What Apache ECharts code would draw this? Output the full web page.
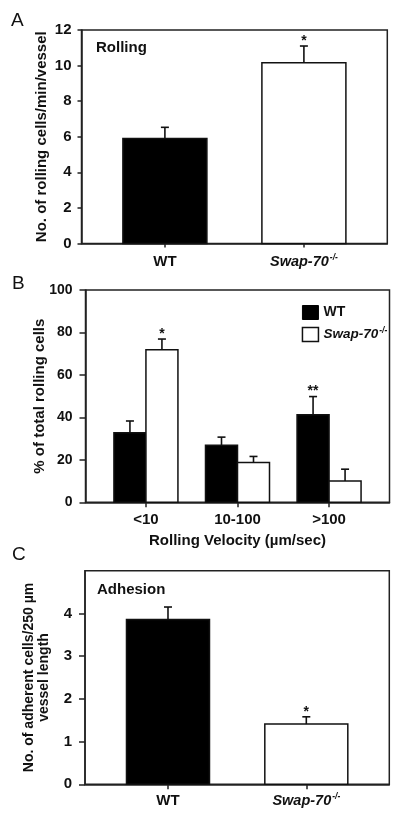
<!DOCTYPE html>
<html>
<head>
<meta charset="utf-8">
<script src="https://cdn.jsdelivr.net/npm/echarts@6/dist/echarts.min.js"></script>
<style>html,body{margin:0;padding:0;background:#fff}#c{width:400px;height:817px}</style>
</head>
<body>
<div id="c"></div>
<script>
// ---------- data ----------
// Panel A: rolling flux
const rollingGroups = ['WT', 'Swap-70'];
const rollingMean = [5.9, 10.16];
const rollingSem = [0.63, 0.94];
const rollingSig = ['', '*'];
const rollingTicks = [0, 2, 4, 6, 8, 10, 12];

// Panel B: rolling velocity distribution
const velocityBins = ['<10', '10-100', '>100'];
const velocityWT = [32.8, 26.9, 41.2];
const velocityWTSem = [5.5, 3.8, 8.6];
const velocityWTSig = ['', '', '**'];
const velocityKO = [71.8, 18.8, 10.0];
const velocityKOSem = [5.1, 2.8, 5.6];
const velocityKOSig = ['*', '', ''];
const velocityTicks = [0, 20, 40, 60, 80, 100];

// Panel C: adhesion
const adhesionGroups = ['WT', 'Swap-70'];
const adhesionMean = [3.86, 1.41];
const adhesionSem = [0.29, 0.17];
const adhesionSig = ['', '*'];
const adhesionTicks = [0, 1, 2, 3, 4];

// ---------- styling ----------
const FONT = 'Liberation Sans';
const INK = '#111';
const AXIS = '#222';
const axisLineStyle = { color: AXIS, width: 1.5 };

function richSet(size) {
  return {
    b: { fontFamily: FONT, fontWeight: 'bold', fontSize: size, color: INK, lineHeight: 17 },
    it: { fontFamily: FONT, fontWeight: 'bold', fontStyle: 'italic', fontSize: size - 0.5, color: INK, lineHeight: 17 },
    sup: { fontFamily: FONT, fontWeight: 'bold', fontStyle: 'italic', fontSize: 8.5, color: INK, lineHeight: 9, verticalAlign: 'top', padding: [0, 0, 0, 1] }
  };
}
function groupLabel(name) {
  if (name === 'Swap-70') return '{it|Swap-70}{sup|-/-}';
  return '{b|' + name + '}';
}

function errorBarSeries(opts) {
  // opts: name, gridIndex, positions, means, sems, sigs, offset, width, fill
  return {
    type: 'custom',
    name: opts.name,
    xAxisIndex: opts.gridIndex,
    yAxisIndex: opts.gridIndex,
    clip: false,
    itemStyle: { color: opts.fill, borderColor: INK, borderWidth: 1.5 },
    encode: { x: 0, y: [1, 2] },
    data: opts.means.map((m, i) => [opts.positions[i], m, m + opts.sems[i]]),
    renderItem: function (params, api) {
      const x = api.value(0), m = api.value(1), e = api.value(2);
      const base = api.coord([x, 0]);
      const top = api.coord([x, m]);
      const et = api.coord([x, e]);
      const cx = base[0] + opts.offset;
      const w = opts.width;
      const sig = opts.sigs[params.dataIndex];
      const children = [
        { type: 'rect', shape: { x: cx - w / 2, y: top[1], width: w, height: base[1] - top[1] },
          style: { fill: opts.fill, stroke: INK, lineWidth: 1.5 } },
        { type: 'line', shape: { x1: cx, y1: top[1], x2: cx, y2: et[1] },
          style: { stroke: INK, lineWidth: 1.6 } },
        { type: 'line', shape: { x1: cx - 4, y1: et[1], x2: cx + 4, y2: et[1] },
          style: { stroke: INK, lineWidth: 1.6 } }
      ];
      if (sig) {
        children.push({ type: 'text', style: { text: sig, x: cx, y: et[1] - 5, align: 'center', verticalAlign: 'middle',
          font: 'bold 14px ' + FONT, fill: INK } });
      }
      return { type: 'group', children: children };
    }
  };
}

const panelLetter = (t, left, top) => ({ text: t, left: left, top: top,
  textStyle: { fontFamily: FONT, fontWeight: 'normal', fontSize: 19, color: INK } });
const innerTitle = (t, left, top) => ({ text: t, left: left, top: top,
  textStyle: { fontFamily: FONT, fontWeight: 'bold', fontSize: 15, color: INK } });

const gridBase = { show: true, borderColor: AXIS, borderWidth: 1.5, backgroundColor: 'transparent' };

function yAxisFor(gridIndex, ticks, max, name, nameGap, nameSize, labelSize, tickLen, margin) {
  return {
    gridIndex: gridIndex, type: 'value', min: 0, max: max,
    interval: ticks[1] - ticks[0],
    name: name, nameLocation: 'middle', nameGap: nameGap, nameMoveOverlap: false,
    nameTextStyle: { fontFamily: FONT, fontWeight: 'bold', fontSize: nameSize, color: INK, lineHeight: 15 },
    splitLine: { show: false },
    axisLine: { show: true, onZero: false, lineStyle: axisLineStyle },
    axisTick: { show: true, length: tickLen, lineStyle: axisLineStyle, customValues: ticks },
    axisLabel: { customValues: ticks, margin: margin, fontFamily: FONT, fontWeight: 'bold', fontSize: labelSize, color: INK }
  };
}

function xAxisFor(gridIndex, cats, pad, tickLen, margin, fmt) {
  const idx = cats.map((_, i) => i);
  return {
    gridIndex: gridIndex, type: 'value', min: -pad, max: cats.length - 1 + pad,
    splitLine: { show: false },
    axisLine: { show: true, onZero: false, lineStyle: axisLineStyle },
    axisTick: { show: true, length: tickLen, lineStyle: axisLineStyle, customValues: idx },
    axisLabel: { customValues: idx, margin: margin, formatter: v => fmt(cats[Math.round(v)]),
      fontFamily: FONT, fontWeight: 'bold', fontSize: 15, color: INK, rich: richSet(15) }
  };
}

// one bar per group (panels A and C)
function groupSeries(prefix, gridIndex, groups, means, sems, sigs, width) {
  return groups.map((g, i) => errorBarSeries({
    name: prefix + ' ' + g, gridIndex: gridIndex, positions: [i], means: [means[i]], sems: [sems[i]], sigs: [sigs[i]],
    offset: 0, width: width, fill: g === 'WT' ? '#000' : '#fff' }));
}

const chart = echarts.init(document.getElementById('c'), null, { renderer: 'canvas', width: 400, height: 817 });

const binPositions = velocityBins.map((_, i) => i);

const option = {
  backgroundColor: '#fff',
  animation: false,
  title: [
    panelLetter('A', 6, 6),
    panelLetter('B', 7, 269),
    panelLetter('C', 7, 540),
    innerTitle('Rolling', 91, 35),
    innerTitle('Adhesion', 92, 577)
  ],
  grid: [
    Object.assign({ left: 81.5, top: 30, width: 305.8, height: 213.5 }, gridBase),
    Object.assign({ left: 85.5, top: 290, width: 304, height: 212.3 }, gridBase),
    Object.assign({ left: 85, top: 570.7, width: 304.3, height: 213.6 }, gridBase)
  ],
  xAxis: [
    xAxisFor(0, rollingGroups, 0.6, 4, 10, groupLabel),
    Object.assign(xAxisFor(1, velocityBins, 0.66, 5, 9, n => '{b|' + n + '}'), {
      name: 'Rolling Velocity (\u00b5m/sec)', nameLocation: 'middle', nameGap: 31, nameMoveOverlap: false,
      nameTextStyle: { fontFamily: FONT, fontWeight: 'bold', fontSize: 15, color: INK }
    }),
    xAxisFor(2, adhesionGroups, 0.6, 5, 8, groupLabel)
  ],
  yAxis: [
    yAxisFor(0, rollingTicks, 12, 'No. of rolling cells/min/vessel', 32, 15, 15, 4, 10),
    yAxisFor(1, velocityTicks, 100, '% of total rolling cells', 38, 15, 14, 6, 13),
    yAxisFor(2, adhesionTicks, 5, 'No. of adherent cells/250 \u00b5m\nvessel length', 33, 14, 15, 6, 13)
  ],
  legend: {
    show: true, orient: 'vertical', left: 296.7, top: 300,
    itemWidth: 16, itemHeight: 14, itemGap: 6, selectedMode: false,
    data: [
      { name: 'WT', icon: 'rect', itemStyle: { color: '#000', borderColor: '#000', borderWidth: 1 } },
      { name: 'Swap-70', icon: 'rect', itemStyle: { color: '#fff', borderColor: INK, borderWidth: 1.5 } }
    ],
    formatter: name => groupLabel(name),
    textStyle: { fontFamily: FONT, fontWeight: 'bold', fontSize: 14, color: INK, rich: richSet(14) }
  },
  series: [].concat(
    groupSeries('Rolling', 0, rollingGroups, rollingMean, rollingSem, rollingSig, 84),
    [
      errorBarSeries({ name: 'WT', gridIndex: 1, positions: binPositions, means: velocityWT, sems: velocityWTSem, sigs: velocityWTSig, offset: -16, width: 32, fill: '#000' }),
      errorBarSeries({ name: 'Swap-70', gridIndex: 1, positions: binPositions, means: velocityKO, sems: velocityKOSem, sigs: velocityKOSig, offset: 16, width: 32, fill: '#fff' })
    ],
    groupSeries('Adhesion', 2, adhesionGroups, adhesionMean, adhesionSem, adhesionSig, 83)
  )
};

chart.setOption(option);
</script>
</body>
</html>
